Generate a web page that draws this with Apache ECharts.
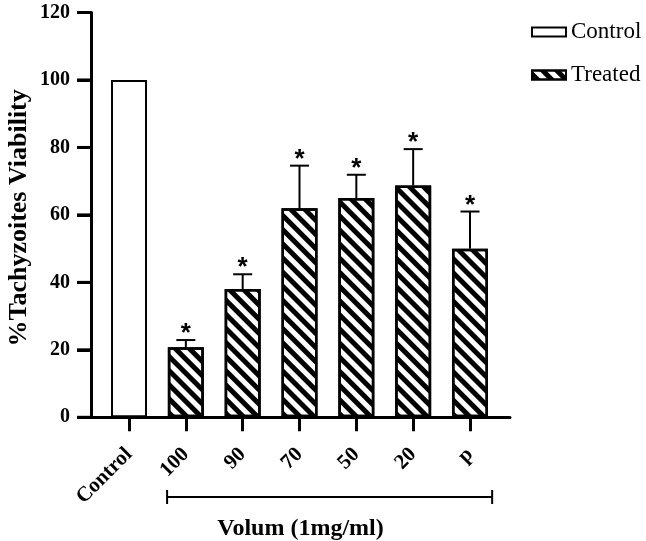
<!DOCTYPE html>
<html>
<head>
<meta charset="utf-8">
<script src="https://cdn.jsdelivr.net/npm/echarts@6/dist/echarts.min.js"></script>
<style>
html,body{margin:0;padding:0;background:#fff;}
#chart{width:646px;height:541px;}
</style>
</head>
<body>
<div id="chart"></div>
<script>
const categories = ['Control', '100', '90', '70', '50', '20', 'p'];
const controlValues = [100];
const treatedValues = [20.8, 38, 62, 65, 68.7, 50];
const treatedUpper = [22.9, 42.4, 74.6, 71.9, 79.5, 61];
const yTicks = [0, 20, 40, 60, 80, 100, 120];
const bracketRange = [0.67, 6.39];

const FONT = 'Liberation Serif, Times New Roman, serif';
const chart = echarts.init(document.getElementById('chart'));

const controlData = controlValues.map((v, i) => [i, v]);
const treatedData = treatedValues.map((v, i) => [i + 1, v]);
const errData = treatedValues.map((v, i) => [i + 1, v, treatedUpper[i]]);
const tickIdx = categories.map((c, i) => i);
const X_MIN = -0.669, X_MAX = 6.704;

const hatch = {
  symbol: 'rect',
  symbolSize: 1,
  dashArrayX: [1, 0],
  dashArrayY: [5, 5],
  rotation: Math.PI / 4,
  color: '#000'
};

const option = {
  animation: false,
  backgroundColor: '#fff',
  grid: { left: 91, right: 136, top: 12.5, bottom: 123.7, containLabel: false, outerBoundsMode: 'none' },
  legend: {
    orient: 'vertical',
    left: 526,
    top: 15.5,
    itemWidth: 34,
    itemHeight: 9,
    itemGap: 20,
    textStyle: { fontFamily: FONT, fontSize: 23, color: '#000' },
    data: [
      { name: 'Control', icon: 'rect' },
      { name: 'Treated', icon: 'rect' }
    ]
  },
  xAxis: {
    type: 'value',
    min: X_MIN,
    max: X_MAX,
    name: 'Volum (1mg/ml)',
    nameLocation: 'middle',
    nameGap: 99,
    nameMoveOverlap: false,
    nameTextStyle: { fontFamily: FONT, fontSize: 24, fontWeight: 'bold', color: '#000' },
    axisLine: { show: true, onZero: false, lineStyle: { color: '#000', width: 3 } },
    axisTick: { show: true, customValues: tickIdx, length: 14, lineStyle: { color: '#000', width: 3 } },
    axisLabel: {
      customValues: tickIdx,
      rotate: 45,
      margin: 34,
      fontFamily: FONT, fontSize: 21, fontWeight: 'bold', color: '#000',
      formatter: v => categories[Math.round(v)]
    },
    splitLine: { show: false }
  },
  yAxis: {
    type: 'value',
    position: 'left',
    min: 0, max: 120, interval: 20,
    name: '%Tachyzoites Viability',
    nameLocation: 'middle',
    nameRotate: 90,
    nameGap: 59,
    nameMoveOverlap: false,
    nameTextStyle: { fontFamily: FONT, fontSize: 26, fontWeight: 'bold', color: '#000', padding: [0, 0, 0, -6] },
    axisLine: { show: true, onZero: false, lineStyle: { color: '#000', width: 3 } },
    axisTick: { show: true, inside: false, length: 14, lineStyle: { color: '#000', width: 3 } },
    axisLabel: {
      margin: 21,
      fontFamily: FONT, fontSize: 20, fontWeight: 'bold', color: '#000',
      formatter: v => String(v)
    },
    splitLine: { show: false }
  },
  series: [
    {
      name: 'Control',
      type: 'bar',
      stack: 'all',
      barWidth: 36,
      data: controlData,
      itemStyle: { color: '#fff', borderColor: '#000', borderWidth: 2 },
      z: 2
    },
    {
      name: 'Treated',
      type: 'bar',
      stack: 'all',
      barWidth: 36,
      data: treatedData,
      itemStyle: { color: '#fff', borderColor: '#000', borderWidth: 2.5, decal: hatch },
      z: 2
    },
    {
      type: 'custom',
      name: 'err',
      data: errData,
      z: 3,
      renderItem: function (params, api) {
        const x = api.value(0);
        const top = api.coord([x, api.value(2)]);
        const base = api.coord([x, api.value(1)]);
        const half = 9.5;
        return {
          type: 'group',
          children: [
            { type: 'line', shape: { x1: top[0], y1: top[1], x2: base[0], y2: base[1] }, style: { stroke: '#000', lineWidth: 2 } },
            { type: 'line', shape: { x1: top[0] - half, y1: top[1], x2: top[0] + half, y2: top[1] }, style: { stroke: '#000', lineWidth: 2 } },
            { type: 'text', x: top[0], y: top[1] + 7, style: { text: '*', fontFamily: 'Liberation Sans, Arial, sans-serif', fontWeight: 'bold', fontSize: 26, fill: '#000', align: 'center', verticalAlign: 'bottom' } }
          ]
        };
      }
    }
  ]
};

chart.setOption(option);

const graphics = [];
// bracket under treated categories
const p1 = chart.convertToPixel({ gridIndex: 0 }, [bracketRange[0], 0]);
const p2 = chart.convertToPixel({ gridIndex: 0 }, [bracketRange[1], 0]);
const by = 497;
graphics.push(
  { type: 'line', shape: { x1: p1[0], y1: by, x2: p2[0], y2: by }, style: { stroke: '#000', lineWidth: 2 } },
  { type: 'line', shape: { x1: p1[0], y1: by - 7, x2: p1[0], y2: by + 7 }, style: { stroke: '#000', lineWidth: 2 } },
  { type: 'line', shape: { x1: p2[0], y1: by - 7, x2: p2[0], y2: by + 7 }, style: { stroke: '#000', lineWidth: 2 } }
);
// y-axis tick marks placed through the axis scale
yTicks.forEach(v => {
  const p = chart.convertToPixel({ gridIndex: 0 }, [X_MIN, v]);
  graphics.push({ type: 'line', shape: { x1: p[0] - 14, y1: p[1], x2: p[0], y2: p[1] }, style: { stroke: '#000', lineWidth: 3 } });
});
chart.setOption({ graphic: graphics });
</script>
</body>
</html>
